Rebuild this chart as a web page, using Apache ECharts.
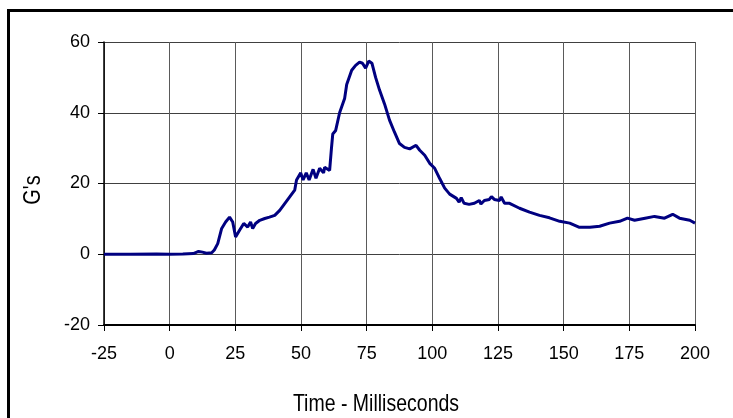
<!DOCTYPE html>
<html>
<head>
<meta charset="utf-8">
<script src="https://cdn.jsdelivr.net/npm/echarts@6/dist/echarts.min.js"></script>
<style>html,body{margin:0;padding:0;background:#fff;}#c{width:733px;height:418px;}</style>
</head>
<body>
<div id="c"></div>
<script>
// Data
const timeMs = [-25,-15,-5,0,5,9,11,12.5,14,16,17,18.3,19.8,21.3,22.8,24,25.1,26.6,28.2,29.7,30.8,31.6,32.7,34.3,36.2,38,40,41.9,43.8,45.7,47.6,48.3,49.9,50.8,52,53.1,54.6,55.7,57.1,58.6,59,60.9,61.6,62.1,63.2,64.7,66.6,67.4,69.3,70.8,72.3,73.4,74.6,75.8,77,78.4,79.9,81.8,83.7,85.6,87.5,89.4,91.4,93.8,95.2,97.1,99,100.9,102.8,104.7,106.6,109.2,110.2,111,112.1,114,116,117.9,118.5,119.8,121.7,122.5,123.6,125.6,126.2,127.5,129.4,133.2,137,140.8,144.6,148.5,152.3,156,160,163.7,167.5,171.3,174.3,177,181,184.6,188.4,191.5,194.1,198,200];
const gValues = [0,0,0.1,0,0.1,0.2,0.8,0.6,0.3,0.4,1.2,3,7.3,9.1,10.5,9.1,4.9,6.8,8.7,7.7,9.1,7.3,8.7,9.6,10.1,10.5,11,12.4,14.3,16.2,18.1,21,23,21,23,21,24,21.5,24.3,23,24.6,23.7,30,34,35,40,44,48,52,53.4,54.3,54,52.6,54.6,54,50,46.4,42.5,37.9,34.5,31.3,30.2,29.8,30.8,29.4,28,25.7,24.3,21.4,18.7,17,15.8,14.7,16,14.4,14.1,14.4,15.2,14.2,15.2,15.5,16.3,15.5,15.2,16.2,14.4,14.4,13,11.9,11,10.3,9.3,8.8,7.6,7.6,7.9,8.8,9.3,10.2,9.6,10.2,10.7,10.2,11.3,10.2,9.6,8.8];
const xTicks = {min: -25, max: 200, step: 25};
const yTicks = {min: -20, max: 60, step: 20};
const xTitle = 'Time - Milliseconds';
const yTitle = "G's";

const seriesData = timeMs.map((t, i) => [t, gValues[i]]);
const font = '"Liberation Sans", Arial, sans-serif';
const chart = echarts.init(document.getElementById('c'), null, {renderer: 'canvas'});
chart.setOption({
  animation: false,
  backgroundColor: '#fff',
  grid: {left: 104, right: 38, top: 42, bottom: 93, containLabel: false},
  xAxis: {
    type: 'value', min: xTicks.min, max: xTicks.max, interval: xTicks.step,
    axisLine: {show: true, onZero: false, lineStyle: {color: '#000', width: 2}},
    axisTick: {show: true, inside: false, length: 6, lineStyle: {color: '#000'}},
    axisLabel: {color: '#000', fontFamily: font, fontSize: 18, margin: 20},
    splitLine: {show: true, lineStyle: {color: '#5a5a5a', width: 1}}
  },
  yAxis: {
    type: 'value', min: yTicks.min, max: yTicks.max, interval: yTicks.step,
    axisLine: {show: true, onZero: false, lineStyle: {color: '#000', width: 1.5}},
    axisTick: {show: true, inside: false, length: 6, lineStyle: {color: '#000'}},
    axisLabel: {color: '#000', fontFamily: font, fontSize: 18, margin: 14},
    splitLine: {show: true, lineStyle: {color: '#404040', width: 1}}
  },
  series: [{
    type: 'line', data: seriesData, showSymbol: false, symbol: 'none',
    lineStyle: {color: '#000080', width: 3}, smooth: false
  }],
  graphic: [
    {type: 'rect', shape: {x: 8.5, y: 10.5, width: 800, height: 500}, style: {fill: 'none', stroke: '#000', lineWidth: 3}, z: 100},
    {type: 'text', x: 376, y: 405, scaleY: 1.2, style: {text: xTitle, font: '19.5px ' + font, fill: '#000', align: 'center', verticalAlign: 'middle'}},
    {type: 'text', x: 33, y: 190, rotation: Math.PI / 2, scaleY: 1.2, style: {text: yTitle, font: '20px ' + font, fill: '#000', align: 'center', verticalAlign: 'middle'}}
  ]
});
</script>
</body>
</html>
